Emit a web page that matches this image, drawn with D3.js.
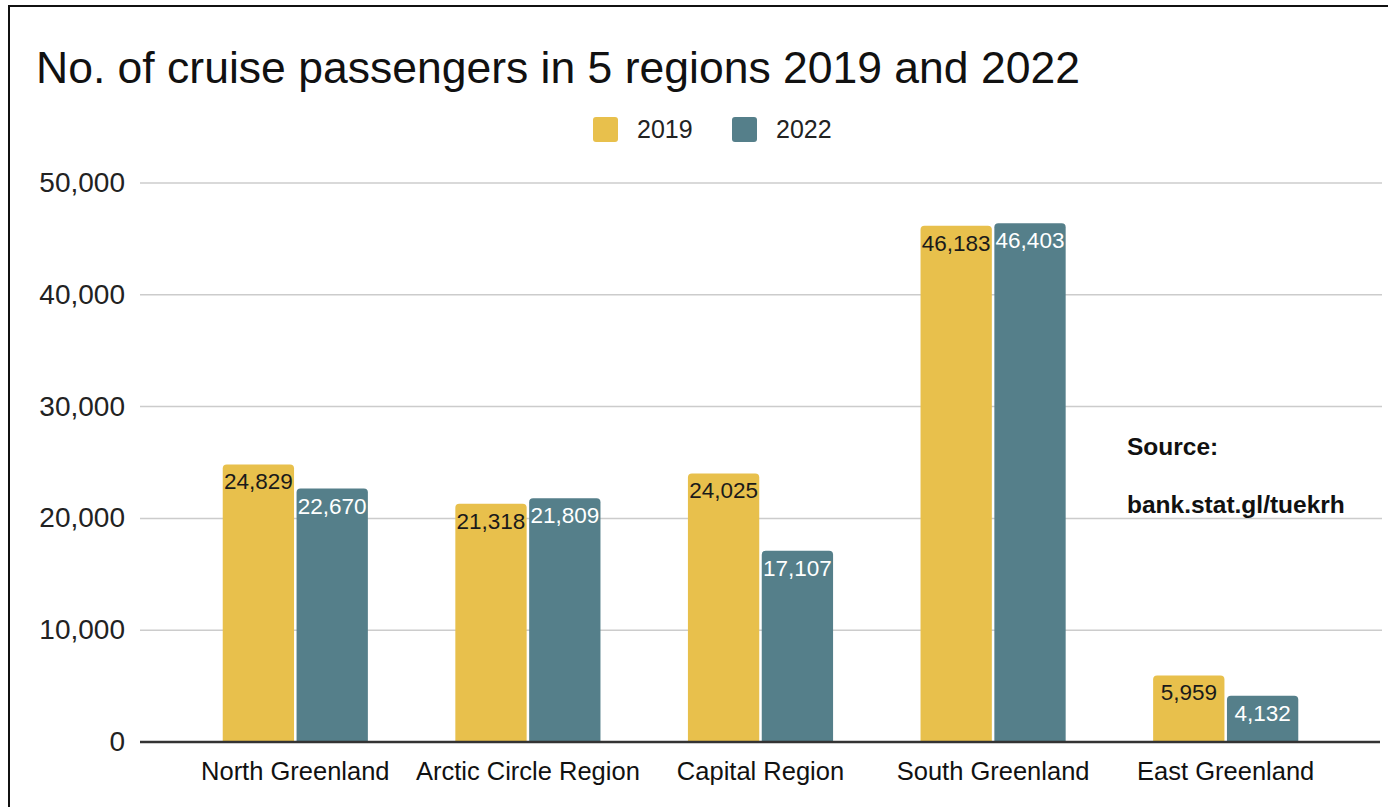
<!DOCTYPE html>
<html>
<head>
<meta charset="utf-8">
<script src="https://cdn.jsdelivr.net/npm/d3@7"></script>
<style>
  body { margin: 0; background: #fff; }
  text { font-family: "Liberation Sans", Arial, sans-serif; }
</style>
</head>
<body>
<svg id="chart" width="1388" height="807"></svg>
<script>
  // chart data
  var regions = ["North Greenland", "Arctic Circle Region", "Capital Region", "South Greenland", "East Greenland"];
  var years = ["2019", "2022"];
  var values2019 = [24829, 21318, 24025, 46183, 5959];
  var values2022 = [22670, 21809, 17107, 46403, 4132];
  var yTicks = [0, 10000, 20000, 30000, 40000, 50000];

  var colors = { "2019": "#e8c04c", "2022": "#557f8a" };
  var labelColors = { "2019": "#1a1a1a", "2022": "#ffffff" };

  var svg = d3.select("#chart");

  // frame lines (top and left)
  svg.append("line").attr("x1", 8).attr("x2", 1388).attr("y1", 6).attr("y2", 6)
    .attr("stroke", "#111").attr("stroke-width", 2);
  svg.append("line").attr("x1", 9).attr("x2", 9).attr("y1", 6).attr("y2", 807)
    .attr("stroke", "#111").attr("stroke-width", 2);

  var x = d3.scaleBand().domain(regions).range([179, 1342]).paddingInner(0.376).paddingOuter(0.188);
  var xs = d3.scaleBand().domain(years).range([0, x.bandwidth()]).paddingInner(0.034);
  var y = d3.scaleLinear().domain([0, 50000]).range([742, 183]);

  // title
  svg.append("text").attr("x", 36).attr("y", 83)
    .attr("font-size", 44.5).attr("fill", "#111")
    .text("No. of cruise passengers in 5 regions 2019 and 2022");

  // legend
  var leg = svg.append("g");
  var legX = [593, 732];
  years.forEach(function (yr, i) {
    leg.append("rect").attr("x", legX[i]).attr("y", 117).attr("width", 25).attr("height", 25)
      .attr("rx", 3).attr("fill", colors[yr]);
    leg.append("text").attr("x", legX[i] + 44).attr("y", 138)
      .attr("font-size", 25).attr("fill", "#222").text(yr);
  });

  // gridlines
  svg.append("g").selectAll("line").data(yTicks.filter(d => d > 0)).join("line")
    .attr("x1", 140).attr("x2", 1382)
    .attr("y1", d => y(d)).attr("y2", d => y(d))
    .attr("stroke", "#cccccc").attr("stroke-width", 1.5);

  // y axis labels
  svg.append("g").selectAll("text").data(yTicks).join("text")
    .attr("x", 125).attr("y", d => y(d) + 9)
    .attr("text-anchor", "end").attr("font-size", 28).attr("fill", "#222")
    .text(d => d3.format(",")(d));

  // bars
  var rows = [];
  regions.forEach(function (r, i) {
    rows.push({ region: r, year: "2019", value: values2019[i] });
    rows.push({ region: r, year: "2022", value: values2022[i] });
  });

  var bars = svg.append("g");
  bars.selectAll("path").data(rows).join("path")
    .attr("fill", d => colors[d.year])
    .attr("d", function (d) {
      var x0 = x(d.region) + xs(d.year), w = xs.bandwidth(), y0 = y(d.value), y1 = y(0), r = 4;
      return "M" + x0 + "," + y1 + "V" + (y0 + r) + "Q" + x0 + "," + y0 + " " + (x0 + r) + "," + y0 +
        "H" + (x0 + w - r) + "Q" + (x0 + w) + "," + y0 + " " + (x0 + w) + "," + (y0 + r) + "V" + y1 + "Z";
    });

  // value labels
  bars.selectAll("text").data(rows).join("text")
    .attr("x", d => x(d.region) + xs(d.year) + xs.bandwidth() / 2)
    .attr("y", d => y(d.value) + 25)
    .attr("text-anchor", "middle").attr("font-size", 22.5)
    .attr("fill", d => labelColors[d.year])
    .text(d => d3.format(",")(d.value));

  // baseline
  svg.append("line").attr("x1", 140).attr("x2", 1380).attr("y1", y(0)).attr("y2", y(0))
    .attr("stroke", "#333").attr("stroke-width", 2.5);

  // x axis labels
  svg.append("g").selectAll("text").data(regions).join("text")
    .attr("x", d => x(d) + x.bandwidth() / 2).attr("y", 780)
    .attr("text-anchor", "middle").attr("font-size", 25.5).attr("fill", "#111")
    .text(d => d);

  // source note
  svg.append("text").attr("x", 1127).attr("y", 455)
    .attr("font-size", 24.5).attr("font-weight", "bold").attr("fill", "#111").text("Source:");
  svg.append("text").attr("x", 1127).attr("y", 513)
    .attr("font-size", 24.5).attr("font-weight", "bold").attr("fill", "#111").text("bank.stat.gl/tuekrh");
</script>
</body>
</html>
